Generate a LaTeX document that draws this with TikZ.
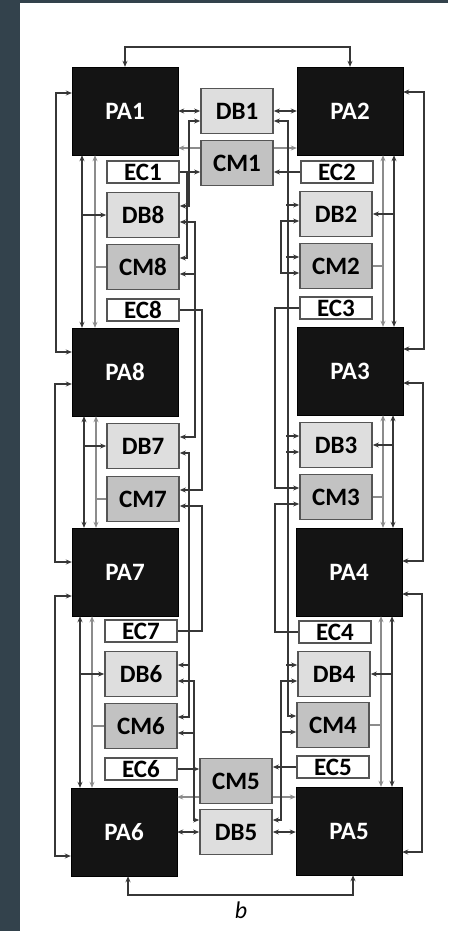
\documentclass[tikz,border=0pt]{standalone}
\usepackage{fontspec}
\setmainfont{Carlito}
\usetikzlibrary{arrows.meta}
\definecolor{slate}{RGB}{51,66,76}
\definecolor{dbgray}{RGB}{222,222,222}
\definecolor{cmgray}{RGB}{194,194,194}
\definecolor{edge}{RGB}{85,85,85}
\definecolor{wire}{RGB}{55,55,55}
\definecolor{wiregr}{RGB}{140,140,140}

\begin{document}
\begin{tikzpicture}[x=1pt,y=-1pt,>={Stealth[length=6pt,width=5pt]},pabox/.style={draw=black,fill=black!92,text=white,minimum width=106pt,minimum height=88pt,inner sep=0pt,font=\bfseries\fontsize{25}{25}\selectfont},dbbox/.style={draw=edge,line width=1.7pt,fill=dbgray,minimum width=72pt,minimum height=45pt,inner sep=0pt,font=\bfseries\fontsize{25}{25}\selectfont},cmbox/.style={dbbox,fill=cmgray},ecbox/.style={dbbox,fill=white,minimum height=22pt},dk/.style={draw=wire,line width=1.6pt},gr/.style={draw=wiregr,line width=1.6pt}]

%frame
\fill[white] (0,0) rectangle (448,931);
\fill[slate] (0,0) rectangle (20,931);
\fill[slate] (0,0) rectangle (448,3);
\useasboundingbox (0,0) rectangle (448,931);

%ring of PA
\node[pabox] (PA1) at (125,111) {PA1};
\node[pabox] (PA2) at (350,111) {PA2};
\node[pabox] (PA8) at (125,372) {PA8};
\node[pabox] (PA3) at (350,371) {PA3};
\node[pabox] (PA7) at (125,572) {PA7};
\node[pabox] (PA4) at (349,572) {PA4};
\node[pabox] (PA6) at (124,832) {PA6};
\node[pabox] (PA5) at (349,831) {PA5};

%middle blocks
\node[dbbox] (DB1) at (237,111) {DB1};
\node[cmbox] (CM1) at (237,163) {CM1};
\node[cmbox] (CM5) at (236,781) {CM5};
\node[dbbox] (DB5) at (236,832) {DB5};

%left column
\node[ecbox] (EC1) at (143,172) {EC1};
\node[dbbox] (DB8) at (143,215) {DB8};
\node[cmbox] (CM8) at (143,267) {CM8};
\node[ecbox] (EC8) at (143,310) {EC8};
\node[dbbox] (DB7) at (143,446) {DB7};
\node[cmbox] (CM7) at (143,499) {CM7};
\node[ecbox] (EC7) at (141,631) {EC7};
\node[dbbox] (DB6) at (141,674) {DB6};
\node[cmbox] (CM6) at (141,726) {CM6};
\node[ecbox] (EC6) at (141,769) {EC6};

%right column
\node[ecbox] (EC2) at (337,172) {EC2};
\node[dbbox] (DB2) at (336,214) {DB2};
\node[cmbox] (CM2) at (336,266) {CM2};
\node[ecbox] (EC3) at (336,308) {EC3};
\node[dbbox] (DB3) at (336,445) {DB3};
\node[cmbox] (CM3) at (336,497) {CM3};
\node[ecbox] (EC4) at (335,632) {EC4};
\node[dbbox] (DB4) at (334,674) {DB4};
\node[cmbox] (CM4) at (333,725) {CM4};
\node[ecbox] (EC5) at (333,767) {EC5};

%outer ring
\draw[dk,<->] (PA1.north) -- ++(0,-20) -| (PA2.north);
\draw[dk,<->] ([xshift=4pt]PA6.south) -- ++(0,19) -| ([xshift=4pt]PA5.south);
\draw[dk,<->] ([yshift=18pt]PA1.west) -- ++(-16,0) |- ([yshift=20pt]PA8.west);
\draw[dk,<->] ([yshift=-12pt]PA8.west) -- ++(-17,0) |- ([yshift=10pt]PA7.west);
\draw[dk,<->] ([yshift=-24pt]PA7.west) -- ++(-17,0) |- ([yshift=-24pt]PA6.west);
\draw[dk,<->] ([yshift=19pt]PA2.east) -- ++(21,0) |- ([yshift=22pt]PA3.east);
\draw[dk,<->] ([yshift=-12pt]PA3.east) -- ++(20,0) |- ([yshift=11pt]PA4.east);
\draw[dk,<->] ([yshift=-22pt]PA4.east) -- ++(20,0) |- ([yshift=-21pt]PA5.east);

%vertical pairs, left
\coordinate (a1) at ([xshift=-43pt]PA1.south);
\coordinate (b1) at ([xshift=-30pt]PA1.south);
\draw[dk,<->] (a1) -- (a1 |- PA8.north);
\draw[gr,<->] (b1) -- (b1 |- PA8.north);
\draw[dk,->] (a1 |- DB8.west) -- (DB8.west);
\draw[gr] (b1 |- CM8.west) -- (CM8.west);
\coordinate (a2) at ([xshift=-41pt]PA8.south);
\coordinate (b2) at ([xshift=-29pt]PA8.south);
\draw[dk,<->] (a2) -- (a2 |- PA7.north);
\draw[gr,<->] (b2) -- (b2 |- PA7.north);
\draw[dk,->] (a2 |- DB7.west) -- (DB7.west);
\draw[gr] (b2 |- CM7.west) -- (CM7.west);
\coordinate (a3) at ([xshift=-45pt]PA7.south);
\coordinate (b3) at ([xshift=-33pt]PA7.south);
\draw[dk,<->] (a3) -- (a3 |- PA6.north);
\draw[gr,<->] (b3) -- (b3 |- PA6.north);
\draw[dk,->] (a3 |- DB6.west) -- (DB6.west);
\draw[gr] (b3 |- CM6.west) -- (CM6.west);

%vertical pairs, right
\coordinate (c1) at ([xshift=44pt]PA2.south);
\coordinate (d1) at ([xshift=33pt]PA2.south);
\draw[dk,<->] (c1) -- (c1 |- PA3.north);
\draw[gr,<->] (d1) -- (d1 |- PA3.north);
\draw[dk,->] (c1 |- DB2.east) -- (DB2.east);
\draw[gr] (d1 |- CM2.east) -- (CM2.east);
\coordinate (c2) at ([xshift=43pt]PA3.south);
\coordinate (d2) at ([xshift=33pt]PA3.south);
\draw[dk,<->] (c2) -- (c2 |- PA4.north);
\draw[gr,<->] (d2) -- (d2 |- PA4.north);
\draw[dk,->] (c2 |- DB3.east) -- (DB3.east);
\draw[gr] (d2 |- CM3.east) -- (CM3.east);
\coordinate (c3) at ([xshift=43pt]PA4.south);
\coordinate (d3) at ([xshift=32pt]PA4.south);
\draw[dk,<->] (c3) -- (c3 |- PA5.north);
\draw[gr,<->] (d3) -- (d3 |- PA5.north);
\draw[dk,->] (c3 |- DB4.east) -- (DB4.east);
\draw[gr] (d3 |- CM4.east) -- (CM4.east);

%top middle
\draw[dk,<->] (PA1.east) -- (PA1.east -| DB1.west);
\draw[dk,<->] (DB1.east) -- (DB1.east -| PA2.west);
\coordinate (c1n) at ([yshift=15pt]CM1.center);
\draw[gr,->] (c1n -| CM1.west) -- (c1n -| PA1.east);
\draw[gr,->] (c1n -| CM1.east) -- (c1n -| PA2.west);
\draw[dk,->] (EC1.east) -- (EC1.east -| CM1.west);
\draw[dk,->] (EC2.west) -- (EC2.west -| CM1.east);

%bottom middle
\coordinate (c5s) at ([yshift=-16pt]CM5.center);
\draw[gr,->] (c5s -| CM5.west) -- (c5s -| PA6.east);
\draw[gr,->] (c5s -| CM5.east) -- (c5s -| PA5.west);
\draw[dk,<->] (DB5.west) -- (DB5.west -| PA6.east);
\draw[dk,<->] (DB5.east) -- (DB5.east -| PA5.west);
\draw[dk,->] (EC6.east) -- (EC6.east -| CM5.west);
\draw[dk,->] (EC5.west) -- (EC5.west -| CM5.east);

%inner chains, left
\draw[dk,<->] ([yshift=-10pt]DB1.west) -- ++(-11,0) |- ([yshift=9pt]DB8.east);
\draw[dk,->] (EC1.east) ++(7,0) |- ([yshift=9pt]CM8.east);
\draw[dk,<->] ([yshift=-7pt]DB8.east) -- ++(15,0) |- ([yshift=9pt]DB7.east);
\draw[dk,<-] ([yshift=-7pt]CM8.east) -- ++(15,0);
\draw[dk,->] (EC8.east) -- ++(22,0) |- ([yshift=9pt]CM7.east);
\draw[dk,<-] ([yshift=-7pt]CM7.east) -- ++(22,0) |- (EC7.east);
\draw[dk,<->] ([yshift=-7pt]DB7.east) -- ++(9,0) |- ([yshift=9pt]CM6.east);
\draw[dk,<-] ([yshift=9pt]DB6.east) -- ++(11,0);
\draw[dk,<->] ([yshift=-7pt]DB6.east) -- ++(16,0) |- ([yshift=12pt]DB5.west);
\draw[dk,<-] ([yshift=-7pt]CM6.east) -- ++(16,0);

%inner chains, right
\draw[dk,<->] ([yshift=-10pt]DB1.east) -- ++(14,0) |- ([yshift=9pt]CM4.west);
\draw[dk,<-] ([yshift=9pt]DB2.west) -- ++(-13,0);
\draw[dk,<-] ([yshift=9pt]CM2.west) -- ++(-13,0);
\draw[dk,<-] ([yshift=9pt]DB3.west) -- ++(-13,0);
\draw[dk,<-] ([yshift=-7pt]DB3.west) -- ++(-13,0);
\draw[dk,<-] ([yshift=9pt]DB4.west) -- ++(-11,0);
\draw[dk,<->] ([yshift=-7pt]DB2.west) -- ++(-18,0) |- ([yshift=-7pt]CM2.west);
\draw[dk,->] (EC3.west) -- ++(-24,0) |- ([yshift=9pt]CM3.west);
\draw[dk,<-] ([yshift=-7pt]CM3.west) -- ++(-24,0) |- (EC4.west);
\draw[dk,<->] ([yshift=-7pt]DB4.west) -- ++(-16,0) |- ([yshift=12pt]DB5.east);
\draw[dk,<-] ([yshift=-7pt]CM4.west) -- ++(-15,0);

%label
\node[font=\itshape\fontsize{24}{24}\selectfont] (lbl) at (241,910) {b};
\end{tikzpicture}
\end{document}
